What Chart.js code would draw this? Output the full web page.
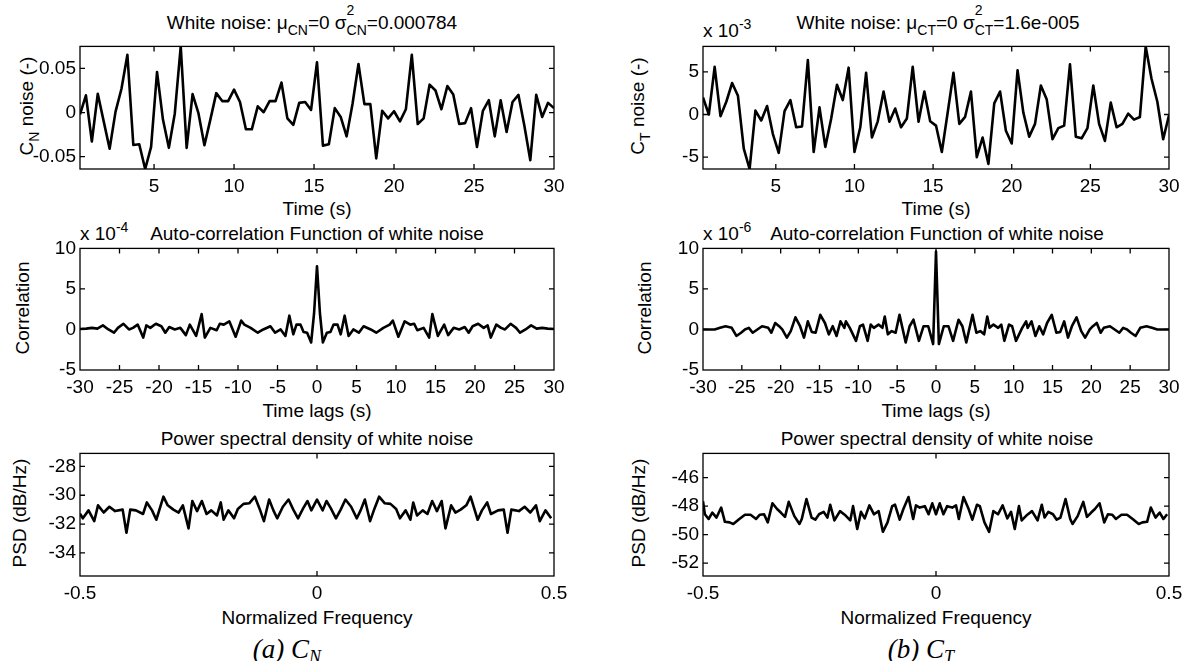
<!DOCTYPE html>
<html><head><meta charset="utf-8">
<script src="https://cdn.jsdelivr.net/npm/chart.js@4.4.1/dist/chart.umd.min.js"></script>
<style>
html,body{margin:0;padding:0;background:#fff;}
#wrap{position:relative;width:1189px;height:661px;overflow:hidden;font-family:"Liberation Sans",Arial,sans-serif;color:#000;background:#fff;}
canvas{position:absolute;}
.t{position:absolute;white-space:nowrap;font-size:19px;line-height:1;transform:translate(-50%,-50%);}
.yl{position:absolute;white-space:nowrap;font-size:19px;line-height:1;transform:translate(-50%,-50%) rotate(-90deg);}
.ex{position:absolute;white-space:nowrap;font-size:19px;line-height:1;transform:translate(0,-50%);}
.sb{font-size:14px;position:relative;top:0.45em;}
.sp{font-size:14px;position:relative;top:-0.6em;}
.st{position:relative;display:inline-block;}
.st .up{position:absolute;left:0;top:-0.7em;font-size:14px;}
.cap{position:absolute;white-space:nowrap;font-family:"Liberation Serif","Times New Roman",serif;font-style:italic;font-size:27px;line-height:1;transform:translate(-50%,-50%);}
.cap .cs{font-size:18px;position:relative;top:0.3em;}
</style></head><body>
<div id="wrap">
  <div class="t" style="left:312px;top:22px">White noise: μ<span class="sb">CN</span>=0 σ<span class="st"><span class="up">2</span><span class="sb">CN</span></span>=0.000784</div>
  <div class="t" style="left:938px;top:22px">White noise: μ<span class="sb">CT</span>=0 σ<span class="st"><span class="up">2</span><span class="sb">CT</span></span>=1.6e-005</div>
  <div class="ex" style="left:703px;top:30px">x 10<span class="sp">-3</span></div>
  <div class="yl" style="left:26px;top:106px">C<span class="sb">N</span> noise (-)</div>
  <div class="yl" style="left:637px;top:106px">C<span class="sb">T</span> noise (-)</div>
  <div class="t" style="left:317px;top:208px">Time (s)</div>
  <div class="t" style="left:936px;top:208px">Time (s)</div>

  <div class="ex" style="left:80px;top:233px">x 10<span class="sp">-4</span></div>
  <div class="ex" style="left:703px;top:233px">x 10<span class="sp">-6</span></div>
  <div class="t" style="left:317px;top:233px">Auto-correlation Function of white noise</div>
  <div class="t" style="left:937px;top:233px">Auto-correlation Function of white noise</div>
  <div class="yl" style="left:22px;top:308px">Correlation</div>
  <div class="yl" style="left:644px;top:308px">Correlation</div>
  <div class="t" style="left:317px;top:410px">Time lags (s)</div>
  <div class="t" style="left:936px;top:410px">Time lags (s)</div>

  <div class="t" style="left:317px;top:438px">Power spectral density of white noise</div>
  <div class="t" style="left:937px;top:438px">Power spectral density of white noise</div>
  <div class="yl" style="left:19px;top:513px">PSD (dB/Hz)</div>
  <div class="yl" style="left:638px;top:513px">PSD (dB/Hz)</div>
  <div class="t" style="left:317px;top:617px">Normalized Frequency</div>
  <div class="t" style="left:936px;top:617px">Normalized Frequency</div>
  <div class="cap" style="left:287px;top:649px">(a) C<span class="cs">N</span></div>
  <div class="cap" style="left:921px;top:649px">(b) C<span class="cs">T</span></div>
</div>
<script>
// ---- data ----
const timeStep = 30 / 81;           // sampling step (s)
const cnNoise = [-0.002,0.0195,-0.0328,0.0213,-0.010,-0.041,0.001,0.027,0.0655,-0.0368,
 -0.036,-0.064,-0.039,0.046,-0.008,-0.040,-0.001,0.075,-0.040,0.021,
 -0.001,-0.037,-0.008,0.022,0.013,0.013,0.026,0.012,-0.019,-0.019,
 0.007,0.0004,0.013,0.013,0.034,-0.0066,-0.014,0.011,0.012,0.003,
 0.057,-0.0375,-0.036,0.005,-0.005,-0.027,0.010,0.055,0.0096,0.0096,
 -0.052,0.002,-0.0066,0.0015,-0.010,0.0037,0.0655,-0.013,-0.0066,0.0316,
 0.025,0.0037,0.030,0.0206,-0.013,-0.012,0.005,-0.039,0.002,0.014,
 -0.027,0.014,-0.022,0.012,0.020,-0.015,-0.054,0.020,-0.005,0.011,0.005];
const ctNoise = [2.0,0,5.6,-0.2,1.5,3.7,2.2,-4.0,-6.4,0.46,
 -0.7,1.0,-2.3,-4.5,0.4,1.7,-1.5,-1.4,6.4,-4.4,
 0.84,-3.8,-0.5,3.5,1.7,5.5,-4.4,-1.5,4.9,-2.7,
 -0.8,2.7,-0.84,0.7,-1.5,-0.46,5.6,-0.84,2.7,-0.8,
 -1.3,-4.4,0.2,4.9,-1.1,-0.27,2.7,-5.0,-2.7,-5.8,
 1.3,2.7,-1.9,-3.4,5.2,0.2,-2.6,-1.1,3.4,1.8,
 -2.9,-1.6,-1.3,5.9,-2.6,-2.8,-1.6,3.4,-1.1,-3.1,
 1.4,-1.5,-1.1,0.1,-0.6,-0.3,8.0,4.2,1.5,-2.9,-0.1]; // x 1e-3

const acfLagsCN = [-30,-29.2,-28.5,-27.8,-27.1,-26.4,-25.7,-25.2,-24.5,-23.8,-23.3,-22.7,-22.0,-21.6,-21.1,-20.4,-19.7,-19.2,-18.7,-18,-17.3,-16.6,-16.1,-15.3,-14.6,-14.2,-13.5,-12.7,-12.3,-11.8,-11.1,-10.3,-9.6,-9.2,-8.4,-7.5,-6.8,-5.9,-5.3,-4.6,-4.0,-3.5,-3.0,-2.6,-2.1,-1.7,-1.25,-0.74,-0.37,
 0,0.37,0.74,1.25,1.7,2.1,2.6,3.0,3.5,4.0,4.6,5.3,5.9,6.8,7.5,8.4,9.2,9.6,10.3,11.1,11.8,12.3,12.7,13.5,14.2,14.6,15.3,16.1,16.6,17.3,18,18.7,19.2,19.7,20.4,21.1,21.6,22.0,22.7,23.3,23.8,24.5,25.2,25.7,26.4,27.1,27.8,28.5,29.2,30];
const acfCN = [0.05,0.1,0.2,0.1,0.5,0,-0.4,0.2,0.7,0,0.2,0.6,-1.0,0.5,0.2,0.7,0.4,-0.4,0.3,0,0.2,-0.7,0.6,-0.8,1.9,-1.0,0.2,-0.1,0.7,0.6,1.0,-0.9,1.1,0.6,0.2,-0.4,0,0.4,-0.4,0,-0.8,1.7,-0.6,0.6,0.6,-0.3,-0.4,-1.6,2.0,
 7.8,2.0,-1.6,-0.4,-0.3,0.6,0.6,-0.6,1.7,-0.8,0,-0.4,0.4,0,-0.4,0.2,0.6,1.1,-0.9,1.0,0.6,0.7,-0.1,0.2,-1.0,1.9,-0.8,0.6,-0.7,0.2,0,0.3,-0.4,0.4,0.7,0.2,0.5,-1.0,0.6,0.2,0,0.7,0.2,-0.4,0,0.5,0.1,0.2,0.1,0.05]; // x 1e-4

const acfLagsCT = [-30,-29.3,-28.5,-27.8,-27.1,-26.3,-25.7,-25.1,-24.6,-24.1,-23.6,-23.0,-22.4,-21.6,-21.2,-20.7,-20.2,-19.8,-19.2,-18.7,-18.1,-17.5,-17.0,-16.5,-16.0,-15.5,-14.9,-14.3,-13.8,-13.3,-12.8,-12.3,-11.8,-11.6,-11.1,-10.3,-9.8,-9.4,-8.8,-8.4,-8.0,-7.4,-6.9,-6.6,-6.2,-5.7,-5.2,-4.7,-3.9,-3.4,-2.9,-2.2,-1.6,-1.0,-0.37,
 0,0.37,1.0,1.6,2.2,2.9,3.4,3.9,4.7,5.2,5.7,6.2,6.6,6.9,7.4,8.0,8.4,8.8,9.4,9.8,10.3,11.1,11.6,11.8,12.3,12.8,13.3,13.8,14.3,14.9,15.5,16.0,16.5,17.0,17.5,18.1,18.7,19.2,19.8,20.2,20.7,21.2,21.6,22.4,23.0,23.6,24.1,24.6,25.1,25.7,26.3,27.1,27.8,28.5,29.3,30];
const acfCT = [0,0,0,0.2,0.4,0.2,-0.8,-0.4,0,0.2,-0.4,0,0.4,0.2,-0.4,0.8,0.4,0,-1.0,-0.2,1.5,0.4,-1.0,1.0,-0.3,-0.4,1.8,0.8,-0.6,0.4,-0.8,1.0,0.2,1.0,0.2,-1.4,0.4,0.6,-1.4,0.6,0.2,0.6,0.2,1.6,-0.6,-0.2,-0.4,1.8,-1.6,0.4,1.2,-1.4,0.4,0.4,-1.8,
 9.6,-1.8,0.4,0.4,-1.4,1.2,0.4,-1.6,1.8,-0.4,-0.2,-0.6,1.6,0.2,0.6,0.2,0.6,-1.4,0.6,0.4,-1.4,0.2,1.0,0.2,1.0,-0.8,0.4,-0.6,0.8,1.8,-0.4,-0.3,1.0,-1.0,0.4,1.5,-0.2,-1.0,0,0.4,0.8,-0.4,0.2,0.4,0,-0.4,0.2,0,-0.4,-0.8,0.2,0.4,0.2,0,0,0]; // x 1e-6

const psdFreqCN = [-0.5,-0.494,-0.482,-0.470,-0.462,-0.450,-0.438,-0.426,-0.410,-0.402,-0.394,-0.382,-0.367,-0.359,-0.348,-0.339,-0.324,-0.315,-0.303,-0.292,-0.283,-0.271,-0.263,-0.253,-0.243,-0.233,-0.223,-0.211,-0.203,-0.197,-0.187,-0.175,-0.167,-0.155,-0.143,-0.131,-0.121,-0.112,-0.101,-0.092,-0.084,-0.072,-0.060,-0.050,-0.040,-0.029,-0.020,-0.012,0,
 0.012,0.020,0.029,0.040,0.050,0.060,0.072,0.084,0.092,0.101,0.112,0.121,0.131,0.143,0.155,0.167,0.175,0.187,0.197,0.203,0.211,0.223,0.233,0.243,0.253,0.263,0.271,0.283,0.292,0.303,0.315,0.324,0.339,0.348,0.359,0.367,0.382,0.394,0.402,0.410,0.426,0.438,0.450,0.462,0.470,0.482,0.494];
const psdCN = [-31.28,-31.6,-31.05,-31.8,-30.7,-31.2,-30.8,-31.1,-31.0,-32.6,-31.0,-31.05,-31.3,-30.5,-31.05,-31.7,-30.1,-30.7,-31.0,-31.2,-30.7,-32.3,-30.4,-31.1,-30.4,-31.3,-31.05,-31.4,-30.5,-31.7,-31.05,-31.6,-30.95,-30.6,-30.56,-30.1,-30.95,-31.8,-30.3,-31.05,-31.6,-30.8,-30.3,-31.0,-31.6,-30.9,-30.4,-31.05,-30.3,
 -31.05,-30.4,-30.9,-31.6,-31.0,-30.3,-30.8,-31.6,-31.05,-30.3,-31.8,-30.95,-30.1,-30.56,-30.6,-30.95,-31.6,-31.05,-31.7,-30.5,-31.4,-31.05,-31.3,-30.4,-31.1,-30.4,-32.3,-30.7,-31.2,-31.0,-30.7,-30.1,-31.7,-31.05,-30.5,-31.3,-31.05,-31.0,-32.6,-31.0,-31.1,-30.8,-31.2,-30.7,-31.8,-31.05,-31.6];

const psdFreqCT = [-0.5,-0.496,-0.488,-0.480,-0.471,-0.461,-0.453,-0.443,-0.435,-0.422,-0.410,-0.398,-0.386,-0.378,-0.369,-0.361,-0.351,-0.341,-0.333,-0.324,-0.316,-0.304,-0.293,-0.288,-0.278,-0.267,-0.259,-0.251,-0.241,-0.233,-0.227,-0.218,-0.206,-0.196,-0.184,-0.178,-0.169,-0.161,-0.153,-0.143,-0.133,-0.123,-0.114,-0.104,-0.094,-0.088,-0.078,-0.070,-0.059,-0.049,-0.043,-0.035,-0.024,-0.016,-0.008,0,
 0.008,0.016,0.024,0.035,0.043,0.049,0.059,0.070,0.078,0.088,0.094,0.104,0.114,0.123,0.133,0.143,0.153,0.161,0.169,0.178,0.184,0.196,0.206,0.218,0.227,0.233,0.241,0.251,0.259,0.267,0.278,0.288,0.293,0.304,0.316,0.324,0.333,0.341,0.351,0.361,0.369,0.378,0.386,0.398,0.410,0.422,0.435,0.443,0.453,0.461,0.471,0.480,0.488,0.496];
const psdCT = [-47.66,-48.57,-48.9,-48.45,-48.8,-48.1,-49.1,-49.14,-49.25,-48.9,-48.6,-48.6,-48.9,-48.6,-48.57,-49.14,-47.8,-48.2,-48.45,-48.75,-47.7,-48.7,-49.25,-48.9,-47.5,-48.8,-48.95,-48.57,-48.4,-48.8,-47.9,-49.0,-48.35,-48.6,-49.0,-48.0,-49.6,-48.4,-48.86,-47.95,-48.57,-48.35,-49.8,-49.14,-48.0,-47.9,-48.95,-48.2,-47.36,-48.9,-47.95,-48.1,-48.0,-48.57,-47.8,-48.57,
 -47.8,-48.57,-48.0,-48.1,-47.95,-48.9,-47.36,-48.2,-48.95,-47.9,-48.0,-49.14,-49.8,-48.35,-48.57,-47.95,-48.86,-48.4,-49.6,-48.0,-49.0,-48.6,-48.35,-49.0,-47.9,-48.8,-48.4,-48.57,-48.95,-48.8,-47.5,-48.9,-49.25,-48.7,-47.7,-48.75,-48.45,-48.2,-47.8,-49.14,-48.57,-48.6,-48.9,-48.6,-48.6,-48.9,-49.25,-49.14,-49.1,-48.1,-48.8,-48.45,-48.9,-48.57];

const timeTicks = [5,10,15,20,25,30];
const lagTicks = [-30,-25,-20,-15,-10,-5,0,5,10,15,20,25,30];
const freqTicks = [-0.5,0,0.5];

// ---- chart helpers ----
Chart.defaults.font.family = '"Liberation Sans", Arial, sans-serif';
Chart.defaults.font.size = 19;
Chart.defaults.color = '#000';

const boxPlugin = {
  id: 'mbox',
  afterDraw(chart) {
    const {ctx, chartArea: a, scales: {x, y}} = chart;
    ctx.save();
    ctx.strokeStyle = '#000';
    ctx.lineWidth = 1.3;
    ctx.strokeRect(a.left, a.top, a.right - a.left, a.bottom - a.top);
    const tl = 5;
    ctx.beginPath();
    x.ticks.forEach(t => {
      const p = x.getPixelForValue(t.value);
      if (p <= a.left + 1 || p >= a.right - 1) return;
      ctx.moveTo(p, a.bottom); ctx.lineTo(p, a.bottom - tl);
      ctx.moveTo(p, a.top); ctx.lineTo(p, a.top + tl);
    });
    y.ticks.forEach(t => {
      const p = y.getPixelForValue(t.value);
      if (p <= a.top + 1 || p >= a.bottom - 1) return;
      ctx.moveTo(a.left, p); ctx.lineTo(a.left + tl, p);
      ctx.moveTo(a.right, p); ctx.lineTo(a.right - tl, p);
    });
    ctx.stroke();
    ctx.restore();
  }
};

const wrap = document.getElementById('wrap');
function fmt(v) { return String(Math.round(v * 1000) / 1000); }

function makeChart(box, xs, ys, opt) {
  const padL = 80, padT = 12, padR = 30, padB = 40;
  const cv = document.createElement('canvas');
  cv.width = box.w + padL + padR;
  cv.height = box.h + padT + padB;
  cv.style.left = (box.x - padL) + 'px';
  cv.style.top = (box.y - padT) + 'px';
  wrap.appendChild(cv);
  const pts = xs.map((xv, i) => ({x: xv, y: ys[i]}));
  new Chart(cv.getContext('2d'), {
    type: 'line',
    data: {datasets: [{data: pts, borderColor: '#000', borderWidth: 2.6, pointRadius: 0, tension: 0, fill: false, borderJoinStyle: 'round'}]},
    options: {
      responsive: false, animation: false, devicePixelRatio: 1,
      layout: {padding: {left: 0, top: padT, right: padR, bottom: 0}, autoPadding: false},
      plugins: {legend: {display: false}, tooltip: {enabled: false}, title: {display: false}},
      scales: {
        x: {
          type: 'linear', min: opt.xmin, max: opt.xmax,
          grid: {display: false, drawTicks: false}, border: {display: false},
          afterBuildTicks: s => { s.ticks = opt.xticks.map(v => ({value: v})); },
          afterFit: s => { s.height = padB; },
          ticks: {padding: 6, maxRotation: 0, autoSkip: false, callback: v => fmt(v)}
        },
        y: {
          type: 'linear', min: opt.ymin, max: opt.ymax,
          grid: {display: false, drawTicks: false}, border: {display: false},
          afterBuildTicks: s => { s.ticks = opt.yticks.map(v => ({value: v})); },
          afterFit: s => { s.width = padL; },
          ticks: {padding: 4, autoSkip: false, callback: v => fmt(v)}
        }
      }
    },
    plugins: [boxPlugin]
  });
}

const colL = {x: 80, w: 474}, colR = {x: 703, w: 466};
const row1 = {y: 43, h: 126}, row2 = {y: 245, h: 125}, row3 = {y: 450, h: 126};
const B = (c, r) => ({x: c.x, w: c.w, y: r.y, h: r.h});

const timeCN = cnNoise.map((_, i) => (i + 1) * timeStep);
const timeCT = ctNoise.map((_, i) => (i + 1) * timeStep);

makeChart(B(colL, row1), timeCN, cnNoise, {xmin: timeStep, xmax: 30, xticks: timeTicks, ymin: -0.064, ymax: 0.075, yticks: [-0.05, 0, 0.05]});
makeChart(B(colR, row1), timeCT, ctNoise, {xmin: timeStep, xmax: 30, xticks: timeTicks, ymin: -6.4, ymax: 8.0, yticks: [-5, 0, 5]});
makeChart(B(colL, row2), acfLagsCN, acfCN, {xmin: -30, xmax: 30, xticks: lagTicks, ymin: -5, ymax: 10, yticks: [-5, 0, 5, 10]});
makeChart(B(colR, row2), acfLagsCT, acfCT, {xmin: -30, xmax: 30, xticks: lagTicks, ymin: -5, ymax: 10, yticks: [-5, 0, 5, 10]});
makeChart(B(colL, row3), psdFreqCN, psdCN, {xmin: -0.5, xmax: 0.5, xticks: freqTicks, ymin: -35.6, ymax: -27.1, yticks: [-34, -32, -30, -28]});
makeChart(B(colR, row3), psdFreqCT, psdCT, {xmin: -0.5, xmax: 0.5, xticks: freqTicks, ymin: -52.9, ymax: -44.3, yticks: [-52, -50, -48, -46]});
</script>
</body></html>
